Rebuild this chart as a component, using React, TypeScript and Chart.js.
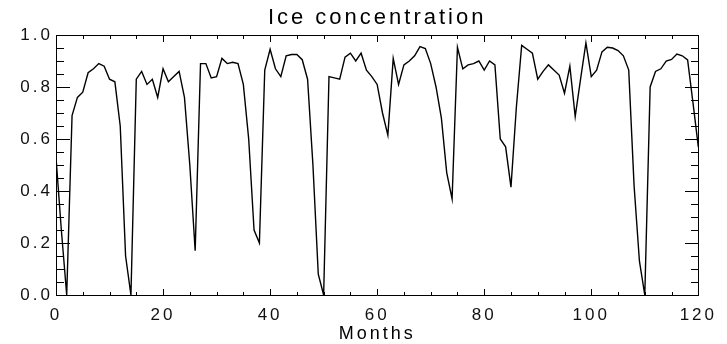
import React, { useEffect, useRef } from "react";
import { Chart, registerables } from "chart.js";

Chart.register(...registerables);

const TITLE = "Ice concentration";
const X_TITLE = "Months";
const X_MIN = 0;
const X_MAX = 120;
const X_STEP = 20;
const X_MINOR = 5;
const Y_MIN = 0;
const Y_MAX = 1;
const Y_STEP = 0.2;
const Y_MINOR = 0.05;

// monthly ice concentration, month 0 .. 120
const iceConcentration = [
  0.53, 0.25, 0.0, 0.69, 0.76, 0.78, 0.855, 0.87, 0.89, 0.88,
  0.83, 0.82, 0.65, 0.15, 0.0, 0.83, 0.86, 0.81, 0.83, 0.76,
  0.87, 0.82, 0.84, 0.86, 0.76, 0.5, 0.17, 0.89, 0.89, 0.835,
  0.84, 0.91, 0.89, 0.895, 0.89, 0.81, 0.6, 0.25, 0.2, 0.865,
  0.945, 0.87, 0.84, 0.92, 0.925, 0.925, 0.905, 0.83, 0.5, 0.08,
  0.0, 0.84, 0.835, 0.83, 0.915, 0.93, 0.9, 0.93, 0.865, 0.84,
  0.81, 0.7, 0.615, 0.91, 0.81, 0.885, 0.9, 0.92, 0.955, 0.948,
  0.89, 0.8, 0.68, 0.47, 0.37, 0.953, 0.87, 0.885, 0.89, 0.9,
  0.865, 0.9, 0.885, 0.6, 0.57, 0.415, 0.72, 0.96, 0.945, 0.93,
  0.83, 0.86, 0.885, 0.865, 0.846, 0.776, 0.88, 0.686, 0.83, 0.97,
  0.84, 0.865, 0.935, 0.953, 0.95, 0.94, 0.92, 0.865, 0.42, 0.13,
  0.0, 0.8, 0.86, 0.87, 0.9, 0.906, 0.927, 0.92, 0.904, 0.74,
  0.57,
];

const FONT = "'Liberation Sans', Arial, Helvetica, sans-serif";

const tickPlugin = {
  id: "iceTicks",
  beforeUpdate(chart: any) {
    chart.ctx.letterSpacing = "3px";
  },
  beforeDraw(chart: any) {
    chart.ctx.letterSpacing = "3px";
  },
  beforeDatasetsDraw(chart: any) {
    const ctx = chart.ctx;
    const a = chart.chartArea;
    const xs = chart.scales.x;
    const ys = chart.scales.y;
    const L = Math.round(a.left);
    const T = Math.round(a.top);
    const R = Math.round(a.right);
    const B = Math.round(a.bottom);
    ctx.save();
    ctx.fillStyle = "#000";
    const nx = Math.round((X_MAX - X_MIN) / X_MINOR);
    const perX = Math.round(X_STEP / X_MINOR);
    for (let k = 0; k <= nx; k++) {
      const px = Math.round(xs.getPixelForValue(X_MIN + k * X_MINOR));
      const len = k % perX === 0 ? 6 : 3;
      ctx.fillRect(px, B - len, 1, len);
      ctx.fillRect(px, T + 1, 1, len);
    }
    const ny = Math.round((Y_MAX - Y_MIN) / Y_MINOR);
    const perY = Math.round(Y_STEP / Y_MINOR);
    for (let i = 0; i <= ny; i++) {
      const py = Math.round(ys.getPixelForValue(Y_MIN + i * Y_MINOR));
      const len = i % perY === 0 ? 13 : 7;
      ctx.fillRect(L + 1, py, len, 1);
      ctx.fillRect(R - len, py, len, 1);
    }
    ctx.restore();
  },
};

const frameBorder = { display: true, color: "#000", width: 1 };

export default function App() {
  const ref = useRef<HTMLCanvasElement | null>(null);

  useEffect(() => {
    if (!ref.current) return;
    const chart = new Chart(ref.current, {
      type: "line",
      data: {
        datasets: [
          {
            data: iceConcentration.map((v, i) => ({ x: X_MIN + i, y: v })),
            borderColor: "#000",
            borderWidth: 1.4,
            pointRadius: 0,
            xAxisID: "x",
            yAxisID: "y",
          },
        ],
      },
      options: {
        animation: false,
        responsive: false,
        devicePixelRatio: 1,
        layout: { padding: { left: 0, right: 27, top: 0, bottom: 0 } },
        plugins: {
          legend: { display: false },
          tooltip: { enabled: false },
          title: {
            display: true,
            text: TITLE,
            fullSize: false,
            color: "#000",
            font: { family: FONT, size: 22, weight: "normal", lineHeight: 1 },
            padding: { top: 7, bottom: 6 },
          },
        },
        scales: {
          x: {
            type: "linear",
            position: "bottom",
            min: X_MIN,
            max: X_MAX,
            grid: { display: false, drawTicks: false },
            border: frameBorder,
            ticks: {
              stepSize: X_STEP,
              color: "#111",
              padding: 10,
              maxRotation: 0,
              font: { family: FONT, size: 17 },
            },
            title: {
              display: true,
              text: X_TITLE,
              color: "#000",
              padding: 0,
              font: { family: FONT, size: 18, lineHeight: 1.1 },
            },
            afterFit(scale: any) {
              scale.height = 49;
            },
          },
          xTop: {
            type: "linear",
            position: "top",
            min: X_MIN,
            max: X_MAX,
            grid: { display: false, drawTicks: false },
            border: frameBorder,
            ticks: { display: false },
            afterFit(scale: any) {
              scale.height = 0;
            },
          },
          y: {
            type: "linear",
            position: "left",
            min: Y_MIN,
            max: Y_MAX,
            grid: { display: false, drawTicks: false },
            border: frameBorder,
            ticks: {
              stepSize: Y_STEP,
              color: "#111",
              padding: 3,
              font: { family: FONT, size: 17 },
              callback: (v: any) => Number(v).toFixed(1),
            },
            afterFit(scale: any) {
              scale.width = 56;
            },
          },
          yRight: {
            type: "linear",
            position: "right",
            min: Y_MIN,
            max: Y_MAX,
            grid: { display: false, drawTicks: false },
            border: frameBorder,
            ticks: { display: false },
            afterFit(scale: any) {
              scale.width = 0;
            },
          },
        },
      },
      plugins: [tickPlugin],
    });
    return () => chart.destroy();
  }, []);

  return (
    <div style={{ position: "fixed", left: 0, top: 0, width: 727, height: 344, background: "#fff" }}>
      <canvas ref={ref} width={727} height={344} />
    </div>
  );
}
